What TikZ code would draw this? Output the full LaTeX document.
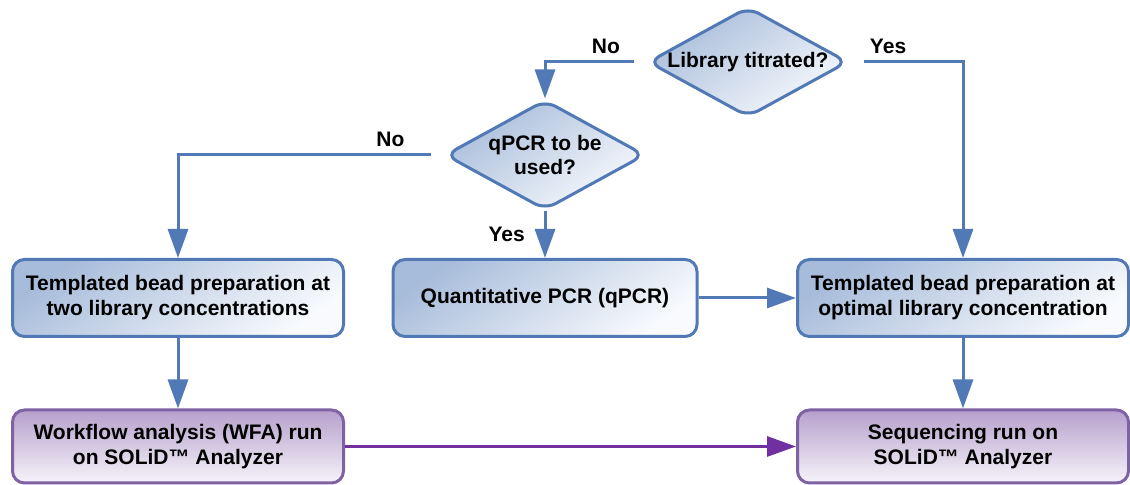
\documentclass[tikz,border=0pt]{standalone}
\usepackage{fontspec}
\setmainfont{Liberation Sans}
\usepackage{xcolor}
\usetikzlibrary{shapes.geometric, arrows.meta, positioning}

\definecolor{bline}{HTML}{5079B5}
\definecolor{bdark}{HTML}{A7BCDA}
\definecolor{blight}{HTML}{F8FAFD}
\definecolor{pline}{HTML}{7F62A3}
\definecolor{pdark}{HTML}{B6A0CC}
\definecolor{plight}{HTML}{F6F3F9}
\definecolor{parrow}{HTML}{7030A0}

\begin{document}
\begin{tikzpicture}[
    x=0.5pt, y=0.5pt,
    node distance=74.25pt,
    every node/.style={font=\fontsize{10.5}{12.5}\selectfont\bfseries},
    block/.style={rectangle, draw=bline, line width=1.5pt, top color=bdark, bottom color=blight, shading angle=35, text centered, align=center, rounded corners=6pt, minimum width=165.5pt, minimum height=38.5pt},
    runblock/.style={block, draw=pline, top color=pdark, bottom color=plight, minimum height=36.5pt},
    decision/.style={diamond, draw=bline, line width=1.5pt, top color=bdark, bottom color=blight, shading angle=35, align=center, aspect=1.8, inner sep=0pt, minimum width=100pt, minimum height=55pt, rounded corners=6pt},
    arrow/.style={draw=bline, line width=1.5pt, -{Triangle[length=14.5pt, width=10pt]}},
    runarrow/.style={arrow, draw=parrow, -{Triangle[length=14.5pt, width=10pt, fill=parrow]}}
]
    \useasboundingbox (0,0) rectangle (1130,-485);

    \node (titr) [decision] at (748,-62) {\raisebox{-1.5pt}{Library titrated?}};
    \node (qpcrq) [decision, below of=titr, xshift=-101.5pt, yshift=27.75pt] {qPCR to be\\used?};
    \node (qpcr) [block, below of=qpcrq, yshift=2.75pt, minimum width=152pt] {Quantitative PCR (qPCR)};
    \node (two) [block, left of=qpcr, node distance=183.5pt] {Templated bead preparation at\\two library concentrations};
    \node (opt) [block, right of=qpcr, node distance=209pt] {Templated bead preparation at\\optimal library concentration};
    \node (wfa) [runblock, below of=two] {Workflow analysis (WFA) run\\on SOLiD\texttrademark\ Analyzer};
    \node (seq) [runblock, below of=opt] {Sequencing run on\\SOLiD\texttrademark\ Analyzer};

    \draw [arrow, shorten <=6.5pt] (titr.west) -| node[above, pos=0.2] {No} (qpcrq.north);
    \draw [arrow, shorten <=7pt] (titr.east) -| node[above, pos=0.17] {Yes} (opt.north);
    \draw [arrow, shorten <=6.5pt] (qpcrq.west) -| node[above, pos=0.1] {No} (two.north);
    \draw [arrow] (qpcrq) -- node[left=6pt] {Yes} (qpcr);
    \draw [arrow] (qpcr) -- (opt);
    \draw [arrow] (two) -- (wfa);
    \draw [arrow] (opt) -- (seq);
    \draw [runarrow] (wfa) -- (seq);
\end{tikzpicture}
\end{document}
